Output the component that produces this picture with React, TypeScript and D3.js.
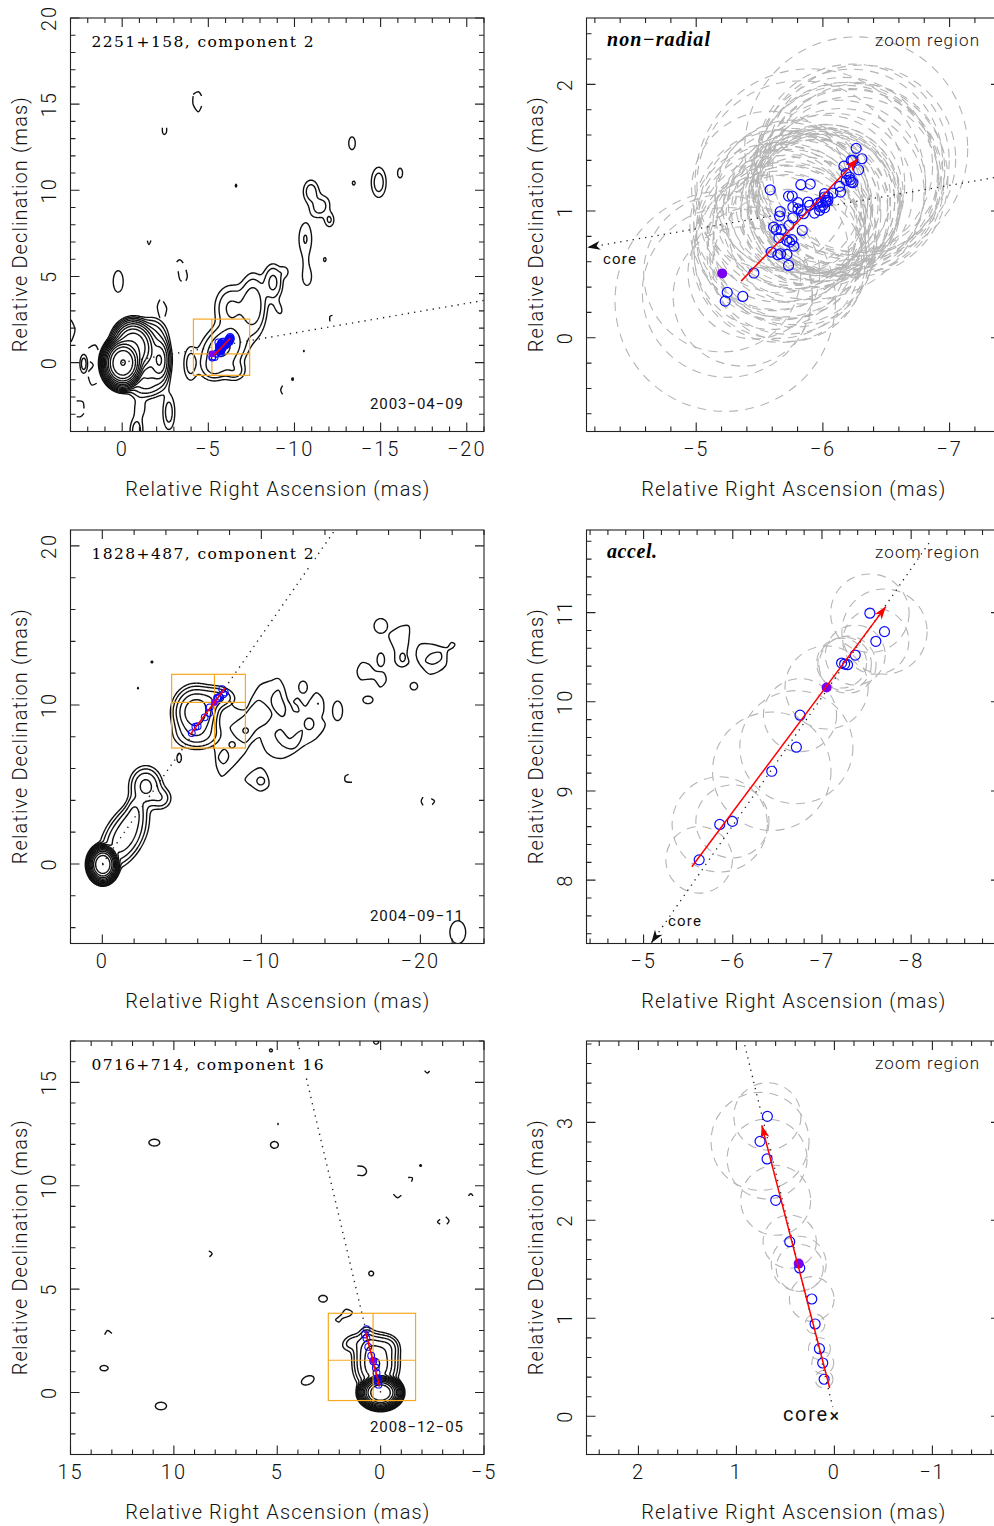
import React, { useMemo } from "react";
import * as d3 from "d3";

// ---------- values ----------
// brightness components of each VLBI map: ra, dec, sigma1, sigma2, tilt(deg), peak (in lowest-contour units), profile power
const MAP_A_COMPONENTS = [
  [0, 0, 0.5, 0.62, 0, 8192, 1.4], [-0.6, 0.9, 0.6, 0.75, 0, 500, 1.4], [-2.15, 0.15, 0.25, 0.55, 0, 64], [-1.5, 0.3, 0.4, 0.7, 0, 30], [-1.7, 1.5, 0.45, 0.55, 0, 8],
  [-1.3, -1.1, 0.6, 0.45, 0, 10], [-1.0, -2.6, 0.28, 0.45, 0, 1.6], [-0.8, -3.92, 0.25, 0.5, 0, 3], [-2.68, -2.85, 0.24, 0.7, 0, 2.8],
  [2.26, -0.04, 0.15, 0.37, 0, 3], [0.26, 4.74, 0.32, 0.69, 0, 1.5], [-3.93, -0.04, 0.26, 0.65, 0, 2.7],
  [-5.87, 0.83, 0.62, 0.85, 40, 9], [-5.3, -0.3, 0.42, 0.38, 0, 3.5], [-6.5, -0.45, 0.38, 0.35, 0, 3],
  [-6.3, 3.2, 0.55, 0.75, 0, 4.5], [-7.57, 3.35, 0.42, 0.95, 0, 7], [-8.73, 4.68, 0.32, 0.6, 0, 5],
  [-9.4, 5.3, 0.2, 0.25, 0, 1.5], [-9.06, 3.16, 0.18, 0.35, -20, 1.4],
  [-10.6, 7.2, 0.3, 0.75, 0, 2.1], [-10.7, 5.0, 0.26, 0.5, 0, 1.6], [-10.62, 5.9, 0.2, 0.4, 0, 0.5],
  [-10.93, 9.95, 0.3, 0.45, 0, 3], [-11.47, 9.07, 0.35, 0.45, 30, 2.8], [-12.0, 8.3, 0.2, 0.3, 0, 2.2],
  [-13.31, 12.76, 0.21, 0.41, 0, 1.5], [-14.86, 10.49, 0.29, 0.59, 0, 3], [-16.1, 11.03, 0.16, 0.31, 0, 1.5],
  [-13.41, 10.45, 0.09, 0.13, 0, 1.5], [-11.73, 6.01, 0.08, 0.13, 0, 1.5], [-6.58, 10.3, 0.05, 0.09, 0, 1.5],
  [-9.86, -0.93, 0.05, 0.1, 0, 1.5], [-10.5, 0.7, 0.04, 0.05, 0, 1.5],
];
const MAP_A_ARCS = [
  [[-4.12, 15.47], [-4.12, 14.98], [-4.42, 14.56], [-4.61, 14.89]], [[-4.12, 15.57], [-4.42, 15.72], [-4.61, 15.47]],
  [[-2.33, 13.63], [-2.35, 13.34], [-2.44, 13.24], [-2.56, 13.34], [-2.58, 13.63]], [[-1.46, 7.08], [-1.55, 6.85], [-1.67, 7.08]],
  [[-3.16, 5.84], [-3.35, 5.97], [-3.54, 5.78]], [[-3.25, 5.3], [-3.35, 4.81], [-3.45, 4.71]], [[-3.7, 5.39], [-3.78, 5.0], [-3.7, 4.75]],
  [[-2.19, 3.65], [-2.04, 3.26], [-2.19, 2.58]], [[-2.38, 3.55], [-2.58, 3.16], [-2.48, 2.68]],
  [[-12.06, 2.39], [-12.06, 2.68], [-12.21, 2.74]], [[-9.31, -1.34], [-9.2, -1.59], [-9.31, -1.85]],
  [[2.97, 2.48], [2.74, 1.9], [2.97, 1.2]], [[2.64, -2.23], [2.29, -2.27], [2.22, -2.66]], [[2.64, -3.14], [2.41, -3.14], [2.22, -2.95]],
  [[1.97, 0.83], [1.58, 1.02], [1.39, 0.73]], [[1.97, -0.82], [1.77, -1.3], [1.48, -1.2]], [[1.87, 0.05], [1.68, -0.14], [1.97, -0.53]],
];
const MAP_A_LOOPS: number[][][] = [];

const MAP_B_COMPONENTS = [
  [0, 0, 0.4, 0.5, 0, 4096, 1.4], [-1.33, 1.74, 0.55, 1.0, 30, 14], [-1.85, 2.9, 0.35, 0.7, 25, 6], [-1.96, 3.5, 0.25, 0.5, 0, 3],
  [-2.7, 4.93, 0.5, 0.6, 0, 10], [-3.64, 4.16, 0.4, 0.4, 0, 3.5],
  [-5.8, 9.58, 0.6, 0.7, 0, 28], [-7.3, 10.55, 0.6, 0.38, 10, 4], [-6.6, 10.2, 0.5, 0.4, 0, 3], [-5.95, 8.15, 0.8, 0.5, 0, 5], [-4.8, 6.68, 0.15, 0.3, 0, 1.5],
  [-8.14, 7.52, 0.2, 0.2, 0, 1.5], [-8.98, 8.42, 0.19, 0.19, 0, 1.5], [-12.97, 8.84, 0.33, 0.4, 0, 1.5], [-13.52, 10.1, 0.04, 0.04, 0, 1.5],
  [-12.59, 11.15, 0.3, 0.42, 0, 1.5], [-14.76, 9.66, 0.35, 0.68, 0, 1.5], [-17.48, 12.87, 0.26, 0.47, 0, 1.5],
  [-16.67, 10.35, 0.35, 0.26, 0, 1.5], [-19.56, 11.21, 0.26, 0.26, 0, 1.5], [-17.48, 15, 0.47, 0.51, 0, 1.5], [-18.85, 13.02, 0.19, 0.3, 0, 1.5],
  [-9.93, 5.25, 0.27, 0.27, 0, 1.5], [-22.32, -4.26, 0.55, 0.8, 0, 1.5], [-2.21, 11.09, 0.05, 0.05, 0, 1.5], [-3.09, 12.73, 0.07, 0.07, 0, 1.5],
];
const MAP_B_ARCS = [
  [[-8.04, 10.25], [-8.35, 9.83], [-8.98, 9.72], [-9.4, 10.46], [-9.93, 11.26], [-10.56, 11.51], [-11.08, 11.66], [-11.4, 11.19], [-11.65, 10.35],
   [-11.88, 9.93], [-12.03, 9.62], [-12.34, 9.58], [-12.28, 9.93], [-12.03, 10.2], [-12.28, 10.42], [-12.76, 9.93], [-13.08, 10.35], [-13.46, 10.77],
   [-13.87, 10.35], [-13.92, 9.62], [-13.81, 9.2], [-14.02, 8.78], [-13.5, 7.94], [-12.66, 7.41], [-11.92, 6.89], [-11.19, 6.63], [-10.35, 7.0],
   [-10.03, 7.62], [-9.89, 7.94], [-9.4, 7.62], [-8.98, 6.99], [-8.63, 6.57], [-8.04, 5.94], [-7.51, 5.52], [-7.2, 6.05], [-7.07, 7.1], [-6.99, 7.41]],
  [[-15.49, 5.63], [-15.28, 5.52], [-15.28, 5.2], [-15.7, 5.14]], [[-20.17, 4.2], [-20.05, 3.95], [-20.17, 3.69]], [[-20.68, 4.11], [-20.89, 3.95], [-20.74, 3.73]],
];
const MAP_B_LOOPS = [
  [[-8.04, 8.57], [-8.46, 8.99], [-8.88, 9.3], [-9.4, 9.93], [-9.82, 10.29], [-10.35, 9.93], [-10.66, 9.41], [-10.35, 8.88], [-9.72, 8.46], [-8.98, 7.62], [-8.56, 7.83], [-8.25, 8.15]],
  [[-7.62, 7.2], [-7.3, 6.68], [-7.62, 6.3], [-7.93, 6.68], [-7.83, 7.1]],
  [[-11.08, 10.92], [-10.73, 10.67], [-10.62, 10.2], [-10.98, 9.51], [-11.36, 9.28], [-11.52, 9.72], [-11.29, 10.42]],
  [[-10.87, 8.19], [-11.19, 8.46], [-11.78, 7.89], [-12.28, 8.25], [-12.55, 8.4], [-12.45, 7.73], [-12.03, 7.26], [-11.57, 7.3], [-11.08, 7.68]],
  [[-18.11, 14.55], [-18.85, 14.97], [-19.27, 14.97], [-19.27, 14.03], [-19.16, 13.19], [-19.27, 12.66], [-18.85, 12.39], [-18.43, 12.66], [-18.37, 13.4], [-18.01, 14.34]],
  [[-16.02, 12.14], [-16.33, 12.66], [-16.75, 12.56], [-17.17, 12.14], [-17.7, 12.03], [-17.84, 11.51], [-17.48, 11.13], [-17.07, 11.61], [-16.23, 11.61]],
  [[-19.75, 13.4], [-20.0, 13.82], [-20.74, 13.82], [-21.68, 13.61], [-21.94, 13.92], [-22.17, 13.82], [-22.06, 13.61], [-21.73, 13.4], [-21.58, 12.45], [-20.63, 11.93], [-20.21, 12.24], [-19.79, 12.87]],
  [[-20.32, 12.77], [-20.63, 13.19], [-21.26, 13.29], [-21.31, 12.87], [-20.74, 12.56]],
  [[-8.98, 5.31], [-9.93, 6.05], [-10.35, 5.63], [-10.45, 4.89], [-9.93, 4.58], [-9.4, 4.89]],
];

const MAP_C_COMPONENTS = [
  [0.03, 0.02, 0.42, 0.33, 0, 8192, 1.4], [0.24, 1.39, 0.44, 0.55, 0, 34], [0.56, 2.2, 0.38, 0.35, 0, 8], [1.45, 2.44, 0.32, 0.22, -30, 2.5], [0.72, 2.84, 0.2, 0.25, 0, 2],
  [-0.3, 2.2, 0.3, 0.3, 0, 6],
  [10.97, 12.11, 0.29, 0.18, 0, 1.5], [5.16, 12.0, 0.21, 0.18, 0, 1.5], [2.81, 4.56, 0.23, 0.18, 0, 1.5], [0.48, 5.78, 0.13, 0.13, 0, 1.5],
  [5.33, 16.57, 0.08, 0.08, 0, 1.5], [4.99, 13.01, 0.03, 0.03, 0, 1.5], [-1.91, 11, 0.05, 0.05, 0, 1.5], [0.24, 17.0, 0.14, 0.14, 0, 1.5],
  [10.65, -0.63, 0.3, 0.2, 0, 1.5], [13.4, 1.2, 0.22, 0.14, 0, 1.5], [3.55, 0.61, 0.36, 0.22, -25, 1.5],
];
const MAP_C_ARCS = [
  [[1.13, 10.95], [0.84, 10.92], [0.68, 10.72], [0.8, 10.51], [1.13, 10.51]], [[-1.33, 10.4], [-1.54, 10.38], [-1.49, 10.19]], [[-0.62, 9.59], [-0.81, 9.42], [-1.0, 9.54]],
  [[-2.13, 15.57], [-2.26, 15.45], [-2.37, 15.55]], [[-4.25, 9.51], [-4.36, 9.61], [-4.47, 9.51]], [[-2.88, 8.37], [-2.75, 8.25], [-2.88, 8.14]],
  [[-3.15, 8.5], [-3.31, 8.3], [-3.2, 8.14]], [[8.31, 6.85], [8.15, 6.72], [8.28, 6.56]], [[11.43, 16.32], [11.22, 16.32]], [[13.35, 2.8], [13.2, 3.0], [13.0, 2.85]],
];
const MAP_C_LOOPS = [
  [[2.18, 3.52], [1.93, 3.73], [1.69, 4.02], [1.37, 3.89], [1.45, 3.73], [1.85, 3.57], [2.01, 3.41]],
];

// jet component positions: ra, dec, fitted radius
const COMP_A = [
  [-5.455, 0.511, 0.52], [-5.245, 0.358, 0.67], [-5.229, 0.289, 0.87], [-5.368, 0.326, 0.55], [-5.584, 1.168, 0.62], [-5.826, 1.208, 0.82], [-5.9, 1.213, 0.91],
  [-5.663, 0.995, 0.64], [-5.658, 0.961, 0.68], [-5.729, 1.118, 0.58], [-5.758, 1.118, 0.6], [-5.803, 1.066, 0.55], [-5.882, 1.071, 0.57], [-5.763, 1.032, 0.62],
  [-5.803, 1.018, 0.59], [-5.829, 1.005, 0.55], [-5.847, 0.979, 0.61], [-5.895, 1.045, 0.54], [-5.934, 0.984, 0.58], [-5.974, 1.005, 0.56], [-6.013, 1.026, 0.58],
  [-6.021, 1.084, 0.6], [-6.013, 1.137, 0.62], [-6.039, 1.111, 0.57], [-6.079, 1.142, 0.63], [-6.139, 1.15, 0.66], [-6.132, 1.195, 0.68],
  [-5.611, 0.874, 0.66], [-5.632, 0.853, 0.63], [-5.671, 0.853, 0.69], [-5.732, 0.887, 0.6], [-5.763, 0.947, 0.56], [-5.837, 0.847, 0.58], [-5.653, 0.789, 0.65],
  [-5.716, 0.768, 0.62], [-5.755, 0.774, 0.67], [-5.737, 0.755, 0.6], [-5.771, 0.724, 0.64], [-5.592, 0.676, 0.61], [-5.645, 0.655, 0.66], [-5.666, 0.663, 0.7],
  [-5.716, 0.658, 0.63], [-5.729, 0.571, 0.6],
  [-6.166, 1.355, 0.7], [-6.224, 1.4, 0.72], [-6.237, 1.4, 0.76], [-6.308, 1.413, 0.74], [-6.263, 1.495, 0.88], [-6.282, 1.326, 0.68], [-6.184, 1.295, 0.72],
  [-6.211, 1.268, 0.7], [-6.184, 1.242, 0.75], [-6.224, 1.229, 0.73], [-6.237, 1.224, 0.68], [-6.216, 1.247, 0.77],
  [-5.961, 1.063, 0.55], [-5.987, 1.071, 0.58], [-6.0, 1.045, 0.6], [-6.026, 1.071, 0.54], [-6.039, 1.084, 0.57], [-5.979, 1.032, 0.63], [-6.013, 1.111, 0.52],
];
const COMP_B = [
  [-5.623, 8.228, 0.373], [-5.854, 8.625, 0.534], [-5.996, 8.659, 0.41], [-6.437, 9.221, 0.664], [-6.713, 9.491, 0.634], [-6.754, 9.85, 0.41], [-7.22, 10.434, 0.28],
  [-7.254, 10.423, 0.3], [-7.287, 10.416, 0.32], [-7.373, 10.524, 0.336], [-7.604, 10.678, 0.37], [-7.701, 10.787, 0.478], [-7.537, 10.993, 0.44],
];
const COMP_C = [
  [0.105, 0.378, 0.09], [0.119, 0.544, 0.112], [0.153, 0.69, 0.112], [0.197, 0.942, 0.1], [0.231, 1.197, 0.228], [0.354, 1.514, 0.24], [0.456, 1.782, 0.272],
  [0.599, 2.204, 0.357], [0.687, 2.626, 0.408], [0.759, 2.806, 0.5], [0.684, 3.061, 0.343],
];

const PANEL_TOPS = [18, 530, 1041];
const PANEL_SIZE = 413.5;
const LEFT_X = 70.5;
const RIGHT_X = 586.5;

const SOURCES = [
  {
    title: "2251+158, component 2", date: "2003\u221204\u221209", titleWidth: 222,
    mapX: [3, -21], mapY: [-4, 20], mapTicks: [5, 1, 5, 1],
    zoomX: [-4.134, -7.398], zoomY: [-0.74, 2.524], zoomTicks: [1, 0.2, 1, 0.2],
    comps: MAP_A_COMPONENTS, arcs: MAP_A_ARCS, loops: MAP_A_LOOPS, levels: 14,
    jet: COMP_A, epoch: [-5.205, 0.508, 0.62], vec: [[-5.355, 0.447], [-6.276, 1.413]],
    mapDot: [[0, 0], [-21, 3.61]], zoomDot: [[-7.4, 1.272], [-4.14, 0.712]], tag: "non\u2212radial", tagWidth: 103,
    core: { x: 603, y: 264, size: 15, width: 33 },
  },
  {
    title: "1828+487, component 2", date: "2004\u221209\u221211", titleWidth: 222,
    mapX: [2, -24], mapY: [-5, 21], mapTicks: [10, 2, 10, 2],
    zoomX: [-4.36, -8.996], zoomY: [7.29, 11.926], zoomTicks: [1, 0.2, 1, 0.2],
    comps: MAP_B_COMPONENTS, arcs: MAP_B_ARCS, loops: MAP_B_LOOPS, levels: 13,
    jet: COMP_B, epoch: [-7.052, 10.161, 0.466], vec: [[-5.541, 8.15], [-7.716, 11.067]],
    mapDot: [[0, 0], [-14.7, 21.1]], zoomDot: [[-8.2, 11.78], [-5.086, 7.296]], tag: "accel.", tagWidth: 50,
    core: { x: 668, y: 926, size: 15, width: 33 },
  },
  {
    title: "0716+714, component 16", date: "2008\u221212\u221205", titleWidth: 232,
    mapX: [15, -5], mapY: [-3, 17], mapTicks: [5, 1, 5, 1],
    zoomX: [2.53, -1.69], zoomY: [-0.39, 3.83], zoomTicks: [1, 0.2, 1, 0.2],
    comps: MAP_C_COMPONENTS, arcs: MAP_C_ARCS, loops: MAP_C_LOOPS, levels: 14,
    jet: COMP_C, epoch: [0.364, 1.558, 0.28], vec: [[0.048, 0.289], [0.741, 2.969]],
    mapDot: [[0, 0], [4.1, 17.35]], zoomDot: [[0.93, 3.85], [0.017, 0.095]], tag: "", tagWidth: 0,
    core: { x: 783, y: 1421, size: 20, width: 44 },
  },
];

const SANS = "Roboto, 'Liberation Sans', sans-serif";
const SERIF = "'DejaVu Serif', 'Liberation Serif', serif";
const FRAME = "#222";
const ORANGE = "#f6a821";
const BLUE = "#0a0aff";
const PURPLE = "#7a00f0";
const RED = "#ff0000";

const fmt = (v: number) => (Object.is(v, -0) ? "0" : String(v)).replace("-", "\u2212");

function stepsIn(domain: number[], step: number) {
  const lo = Math.min(domain[0], domain[1]);
  const hi = Math.max(domain[0], domain[1]);
  const out: number[] = [];
  for (let k = Math.ceil(lo / step - 1e-6); k <= Math.floor(hi / step + 1e-6); k++) out.push(+(k * step).toFixed(4));
  return out;
}

function Frame({ x0, y0, xs, ys, ticks }: any) {
  const [xMaj, xMin, yMaj, yMin] = ticks;
  const x1 = x0 + PANEL_SIZE;
  const y1 = y0 + PANEL_SIZE;
  const xAll = stepsIn(xs.domain(), xMin);
  const yAll = stepsIn(ys.domain(), yMin);
  const isMaj = (v: number, m: number) => Math.abs(v / m - Math.round(v / m)) < 1e-4;
  return (
    <g stroke={FRAME} strokeWidth={1.1} fill="none">
      <rect x={x0} y={y0} width={PANEL_SIZE} height={PANEL_SIZE} />
      {xAll.map((v) => {
        const len = isMaj(v, xMaj) ? 9 : 5;
        return <path key={"x" + v} d={`M${xs(v)},${y1}v${-len}M${xs(v)},${y0}v${len}`} />;
      })}
      {yAll.map((v) => {
        const len = isMaj(v, yMaj) ? 9 : 5;
        return <path key={"y" + v} d={`M${x0},${ys(v)}h${len}M${x1},${ys(v)}h${-len}`} />;
      })}
      <g stroke="none" fill="#111" fontFamily={SANS} fontSize={20} fontWeight={300}>
        {stepsIn(xs.domain(), xMaj).map((v) => (
          <text key={v} x={xs(v)} y={y1 + 24.5} textAnchor="middle" letterSpacing={2}>{fmt(v)}</text>
        ))}
        {stepsIn(ys.domain(), yMaj).map((v) => (
          <text key={v} transform={`translate(${x0 - 14.5},${ys(v)}) rotate(-90)`} textAnchor="middle" letterSpacing={2}>{fmt(v)}</text>
        ))}
        <text x={x0 + PANEL_SIZE / 2} y={y1 + 64} textAnchor="middle" textLength={304} lengthAdjust="spacing">Relative Right Ascension (mas)</text>
        <text transform={`translate(${x0 - 43.5},${y0 + PANEL_SIZE / 2}) rotate(-90)`} textAnchor="middle" textLength={255} lengthAdjust="spacing">Relative Declination (mas)</text>
      </g>
    </g>
  );
}

function headPath(a: number[], b: number[], len: number, half: number) {
  const dx = b[0] - a[0];
  const dy = b[1] - a[1];
  const n = Math.hypot(dx, dy);
  const ux = dx / n;
  const uy = dy / n;
  const bx = b[0] - ux * len;
  const by = b[1] - uy * len;
  const nx = b[0] - ux * len * 0.72;
  const ny = b[1] - uy * len * 0.72;
  return `M${b[0]},${b[1]}L${bx - uy * half},${by + ux * half}L${nx},${ny}L${bx + uy * half},${by - ux * half}Z`;
}

function MapPanel({ src, idx }: any) {
  const y0 = PANEL_TOPS[idx];
  const xs = d3.scaleLinear().domain(src.mapX).range([LEFT_X, LEFT_X + PANEL_SIZE]);
  const ys = d3.scaleLinear().domain(src.mapY).range([y0 + PANEL_SIZE, y0]);
  const paths = useMemo(() => {
    const W = 414;
    const H = 414;
    const values = new Float64Array(W * H);
    const prepared = src.comps.map(([ra, dec, s1, s2, tilt, amp, power]: number[]) => {
      const t = (tilt * Math.PI) / 180;
      return { ra, dec, s1, s2, amp, p: power || 1, c: Math.cos(t), s: Math.sin(t) };
    });
    for (let j = 0; j < H; j++) {
      const d = ys.invert(y0 + j);
      for (let i = 0; i < W; i++) {
        const r = xs.invert(LEFT_X + i);
        let v = 0;
        for (const p of prepared) {
          const dr = r - p.ra;
          const dd = d - p.dec;
          if (Math.abs(dr) > 6 * Math.max(p.s1, p.s2) || Math.abs(dd) > 6 * Math.max(p.s1, p.s2)) continue;
          const u = (dr * p.c + dd * p.s) / p.s1;
          const w = (-dr * p.s + dd * p.c) / p.s2;
          v += p.amp * Math.exp(-0.5 * Math.pow(u * u + w * w, p.p));
        }
        values[j * W + i] = v;
      }
    }
    const thresholds = d3.range(src.levels).map((k) => Math.pow(2, k));
    const polys = d3.contours().size([W, H]).thresholds(thresholds)(values as any);
    const gp = d3.geoPath();
    return polys.map((p) => gp(p) || "");
  }, [src]);
  const line = d3.line<number[]>().x((d) => xs(d[0])).y((d) => ys(d[1]));
  const open = line.curve(d3.curveCatmullRom)
  const arcPaths = src.arcs.map((a: number[][]) => open(a));
  const closed = d3.line<number[]>().x((d) => xs(d[0])).y((d) => ys(d[1])).curve(d3.curveCatmullRomClosed);
  const id = `map${idx}`;
  return (
    <g>
      <clipPath id={id}><rect x={LEFT_X} y={y0} width={PANEL_SIZE} height={PANEL_SIZE} /></clipPath>
      <g clipPath={`url(#${id})`}>
        <line x1={xs(src.mapDot[0][0])} y1={ys(src.mapDot[0][1])} x2={xs(src.mapDot[1][0])} y2={ys(src.mapDot[1][1])}
          stroke="#222" strokeWidth={1.4} strokeDasharray="1.3 5" />
        <g transform={`translate(${LEFT_X},${y0})`} fill="none" stroke="#111" strokeWidth={1.4} strokeLinejoin="round">
          {paths.map((d: string, i: number) => <path key={i} d={d} />)}
        </g>
        <g fill="none" stroke="#111" strokeWidth={1.4}>
          {arcPaths.map((d: string, i: number) => <path key={i} d={d} />)}
          {src.loops.map((l: number[][], i: number) => <path key={i} d={closed(l) || ""} />)}
        </g>
        <rect x={LEFT_X + 20} y={y0 + 12} width={src.titleWidth + 2} height={23} fill="#fff" />
        <g fill="none" stroke={ORANGE} strokeWidth={1.2}>
          <rect x={xs(src.zoomX[0])} y={ys(src.zoomY[1])} width={xs(src.zoomX[1]) - xs(src.zoomX[0])} height={ys(src.zoomY[0]) - ys(src.zoomY[1])} />
          <line x1={xs(src.epoch[0])} x2={xs(src.epoch[0])} y1={ys(src.zoomY[0])} y2={ys(src.zoomY[1])} />
          <line y1={ys(src.epoch[1])} y2={ys(src.epoch[1])} x1={xs(src.zoomX[0])} x2={xs(src.zoomX[1])} />
        </g>
        {src.jet.map((c: number[], i: number) => (
          <circle key={i} cx={xs(c[0])} cy={ys(c[1])} r={3.4} fill="none" stroke={BLUE} strokeWidth={1.1} />
        ))}
        <circle cx={xs(src.epoch[0])} cy={ys(src.epoch[1])} r={3.4} fill={PURPLE} />
        <line x1={xs(src.vec[0][0])} y1={ys(src.vec[0][1])} x2={xs(src.vec[1][0])} y2={ys(src.vec[1][1])} stroke={RED} strokeWidth={1.6} />
      </g>
      <Frame x0={LEFT_X} y0={y0} xs={xs} ys={ys} ticks={src.mapTicks} />
      <text x={LEFT_X + 21} y={y0 + 29} fontFamily={SERIF} fontSize={15.5} fill="#000" textLength={src.titleWidth} lengthAdjust="spacing">{src.title}</text>
      <text x={463} y={y0 + 391} textAnchor="end" fontFamily={SANS} fontSize={15} fill="#111" textLength={93} lengthAdjust="spacing">{src.date}</text>
    </g>
  );
}

function ZoomPanel({ src, idx }: any) {
  const y0 = PANEL_TOPS[idx];
  const xs = d3.scaleLinear().domain(src.zoomX).range([RIGHT_X, RIGHT_X + PANEL_SIZE]);
  const ys = d3.scaleLinear().domain(src.zoomY).range([y0 + PANEL_SIZE, y0]);
  const pxPerUnit = Math.abs(xs(1) - xs(0));
  const id = `zoom${idx}`;
  const allRings = [...src.jet, src.epoch];
  const dotA = [xs(src.zoomDot[0][0]), ys(src.zoomDot[0][1])];
  const dotB = [xs(src.zoomDot[1][0]), ys(src.zoomDot[1][1])];
  const vecA = [xs(src.vec[0][0]), ys(src.vec[0][1])];
  const vecB = [xs(src.vec[1][0]), ys(src.vec[1][1])];
  return (
    <g>
      <clipPath id={id}><rect x={RIGHT_X} y={y0} width={PANEL_SIZE} height={PANEL_SIZE} /></clipPath>
      <g clipPath={`url(#${id})`}>
        <g fill="none" stroke="#b4b4b4" strokeWidth={1.1} strokeDasharray="9 7">
          {allRings.map((c: number[], i: number) => <circle key={i} cx={xs(c[0])} cy={ys(c[1])} r={c[2] * pxPerUnit} />)}
        </g>
        <line x1={dotA[0]} y1={dotA[1]} x2={dotB[0]} y2={dotB[1]} stroke="#222" strokeWidth={1.3} strokeDasharray="1.3 5" />
        {idx < 2 && <path d={headPath(dotA, dotB, 13, 4.5)} fill="#111" />}
        {src.jet.map((c: number[], i: number) => (
          <circle key={i} cx={xs(c[0])} cy={ys(c[1])} r={5} fill="none" stroke={BLUE} strokeWidth={1.2} />
        ))}
        <circle cx={xs(src.epoch[0])} cy={ys(src.epoch[1])} r={5} fill={PURPLE} />
        <line x1={vecA[0]} y1={vecA[1]} x2={vecB[0]} y2={vecB[1]} stroke={RED} strokeWidth={1.5} />
        <path d={headPath(vecA, vecB, 13, 4.5)} fill={RED} />
      </g>
      <Frame x0={RIGHT_X} y0={y0} xs={xs} ys={ys} ticks={src.zoomTicks} />
      <text x={979} y={y0 + 28} textAnchor="end" fontFamily={SANS} fontSize={17} fontWeight={300} fill="#111" textLength={104} lengthAdjust="spacing">zoom region</text>
      {src.tag && (
        <text x={607} y={y0 + 28} fontFamily="'Liberation Serif', serif" fontStyle="italic" fontWeight={700} fontSize={20} fill="#000" textLength={src.tagWidth} lengthAdjust="spacing">{src.tag}</text>
      )}
      <text x={src.core.x} y={src.core.y} fontFamily={SANS} fontSize={src.core.size} fill="#111" textLength={src.core.width} lengthAdjust="spacing">core</text>
      {idx === 2 && <text x={xs(0)} y={ys(0) + 6} textAnchor="middle" fontFamily={SANS} fontSize={18} fill="#111">×</text>}
    </g>
  );
}

export default function App() {
  return (
    <svg width={994} height={1526} viewBox="0 0 994 1526" style={{ position: "absolute", left: 0, top: 0, background: "#fff" }}>
      {SOURCES.map((src, i) => (
        <g key={i}>
          <MapPanel src={src} idx={i} />
          <ZoomPanel src={src} idx={i} />
        </g>
      ))}
    </svg>
  );
}
